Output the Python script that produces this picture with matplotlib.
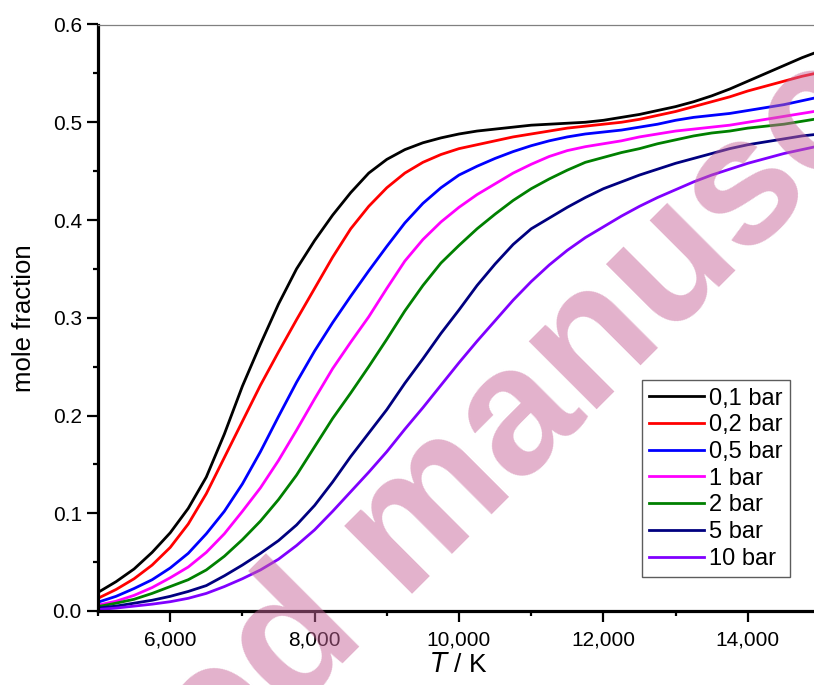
import matplotlib
matplotlib.use("Agg")
import matplotlib.pyplot as plt
from matplotlib.ticker import MultipleLocator, FuncFormatter

plt.rcParams['font.family'] = ['Liberation Sans', 'DejaVu Sans']

# Temperature grid (K)
temperature = [5000, 5250, 5500, 5750, 6000, 6250, 6500, 6750, 7000, 7250, 7500,
               7750, 8000, 8250, 8500, 8750, 9000, 9250, 9500, 9750, 10000,
               10250, 10500, 10750, 11000, 11250, 11500, 11750, 12000, 12250, 12500,
               12750, 13000, 13250, 13500, 13750, 14000, 14250, 14500, 14750, 15000]

# Mole fraction at each pressure
x_0_1bar = [0.019, 0.030, 0.043, 0.060, 0.080, 0.105, 0.137, 0.181, 0.230, 0.273, 0.314,
            0.350, 0.379, 0.405, 0.428, 0.448, 0.462, 0.472, 0.479, 0.484, 0.488,
            0.491, 0.493, 0.495, 0.497, 0.498, 0.499, 0.500, 0.502, 0.505, 0.508,
            0.512, 0.516, 0.521, 0.527, 0.534, 0.542, 0.550, 0.558, 0.566, 0.573]
x_0_2bar = [0.013, 0.022, 0.033, 0.047, 0.065, 0.089, 0.120, 0.157, 0.194, 0.231, 0.265,
            0.298, 0.330, 0.362, 0.391, 0.414, 0.433, 0.448, 0.459, 0.467, 0.473,
            0.477, 0.481, 0.485, 0.488, 0.491, 0.494, 0.496, 0.498, 0.500, 0.503,
            0.507, 0.511, 0.516, 0.521, 0.526, 0.532, 0.537, 0.542, 0.547, 0.551]
x_0_5bar = [0.009, 0.015, 0.023, 0.032, 0.044, 0.059, 0.079, 0.102, 0.130, 0.163, 0.199,
            0.234, 0.266, 0.295, 0.322, 0.348, 0.373, 0.397, 0.417, 0.433, 0.446,
            0.455, 0.463, 0.470, 0.476, 0.481, 0.485, 0.488, 0.490, 0.492, 0.495,
            0.498, 0.502, 0.505, 0.507, 0.509, 0.512, 0.515, 0.518, 0.522, 0.526]
x_1bar = [0.006, 0.010, 0.016, 0.024, 0.034, 0.045, 0.060, 0.079, 0.102, 0.126, 0.154,
          0.185, 0.217, 0.248, 0.275, 0.301, 0.330, 0.358, 0.380, 0.398, 0.413,
          0.426, 0.437, 0.448, 0.457, 0.465, 0.471, 0.475, 0.478, 0.481, 0.485,
          0.488, 0.491, 0.493, 0.495, 0.497, 0.500, 0.503, 0.506, 0.509, 0.512]
x_2bar = [0.0045, 0.008, 0.012, 0.018, 0.025, 0.032, 0.042, 0.056, 0.073, 0.092, 0.114,
          0.139, 0.168, 0.197, 0.223, 0.250, 0.278, 0.307, 0.333, 0.356, 0.374,
          0.391, 0.406, 0.420, 0.432, 0.442, 0.451, 0.459, 0.464, 0.469, 0.473,
          0.478, 0.482, 0.486, 0.489, 0.491, 0.494, 0.496, 0.498, 0.501, 0.504]
x_5bar = [0.003, 0.005, 0.008, 0.011, 0.015, 0.020, 0.026, 0.036, 0.047, 0.059, 0.072,
          0.088, 0.108, 0.132, 0.158, 0.182, 0.206, 0.233, 0.258, 0.284, 0.308,
          0.333, 0.355, 0.375, 0.391, 0.402, 0.413, 0.423, 0.432, 0.439, 0.446,
          0.452, 0.458, 0.463, 0.468, 0.473, 0.477, 0.480, 0.483, 0.486, 0.488]
x_10bar = [0.0015, 0.003, 0.005, 0.007, 0.0095, 0.013, 0.018, 0.025, 0.033, 0.042, 0.053,
           0.067, 0.083, 0.102, 0.122, 0.142, 0.163, 0.186, 0.208, 0.231, 0.254,
           0.276, 0.297, 0.318, 0.337, 0.354, 0.369, 0.382, 0.393, 0.404, 0.414,
           0.423, 0.431, 0.439, 0.446, 0.452, 0.458, 0.463, 0.468, 0.472, 0.476]

series = [x_0_1bar, x_0_2bar, x_0_5bar, x_1bar, x_2bar, x_5bar, x_10bar]
labels = ["0,1 bar", "0,2 bar", "0,5 bar", "1 bar", "2 bar", "5 bar", "10 bar"]
colors = ["#000000", "#ff0000", "#0000ff", "#ff00ff", "#008000", "#000080", "#8000ff"]

W, H = 814, 685
fig = plt.figure(figsize=(W / 100, H / 100), dpi=100)
ax = fig.add_axes([98 / W, 74 / H, 722 / W, 586.5 / H])

for y, lab, col in zip(series, labels, colors):
    ax.plot(temperature, y, color=col, lw=2.0, label=lab, solid_joinstyle='round')

ax.set_xlim(5000, 15000)
ax.set_ylim(0, 0.6)

ax.xaxis.set_major_locator(MultipleLocator(2000))
ax.xaxis.set_minor_locator(MultipleLocator(1000))
ax.yaxis.set_major_locator(MultipleLocator(0.1))
ax.yaxis.set_minor_locator(MultipleLocator(0.05))
ax.xaxis.set_major_formatter(FuncFormatter(lambda v, p: "" if v == 5000 else f"{int(v):,}"))
ax.yaxis.set_major_formatter(FuncFormatter(lambda v, p: f"{v:.1f}"))

ax.tick_params(which='major', direction='out', length=7.7, width=1.6, labelsize=15)
ax.tick_params(axis='x', which='major', pad=6.5)
ax.tick_params(axis='y', which='major', pad=4)
ax.tick_params(which='minor', direction='out', length=3.8, width=1.6)
ax.tick_params(top=False, right=False)

for side in ('left', 'bottom'):
    ax.spines[side].set_linewidth(2.3)
ax.spines['right'].set_visible(False)
ax.spines['top'].set_color('#808080')
ax.spines['top'].set_linewidth(0.9)

ax.set_xlabel(r"$\mathit{T}$ / K", fontsize=19, labelpad=2)
ax.set_ylabel("mole fraction", fontsize=18.5, labelpad=12)

leg = ax.legend(loc='lower right', bbox_to_anchor=(0.958, 0.058), fontsize=17,
                frameon=True, fancybox=False, edgecolor='#333333', handlelength=2.35,
                handletextpad=0.2, labelspacing=0.2, borderpad=0.3, borderaxespad=0)
leg.get_frame().set_linewidth(1.0)

# Diagonal watermark drawn over the figure
fig.text(410 / W, 1 - 530 / H, "Accepted manuscript", fontsize=130, fontweight='bold',
         color=(0.78, 0.40, 0.60, 0.5), rotation=45, rotation_mode='anchor',
         ha='center', va='center', zorder=10)

fig.savefig("out.png", dpi=100)
